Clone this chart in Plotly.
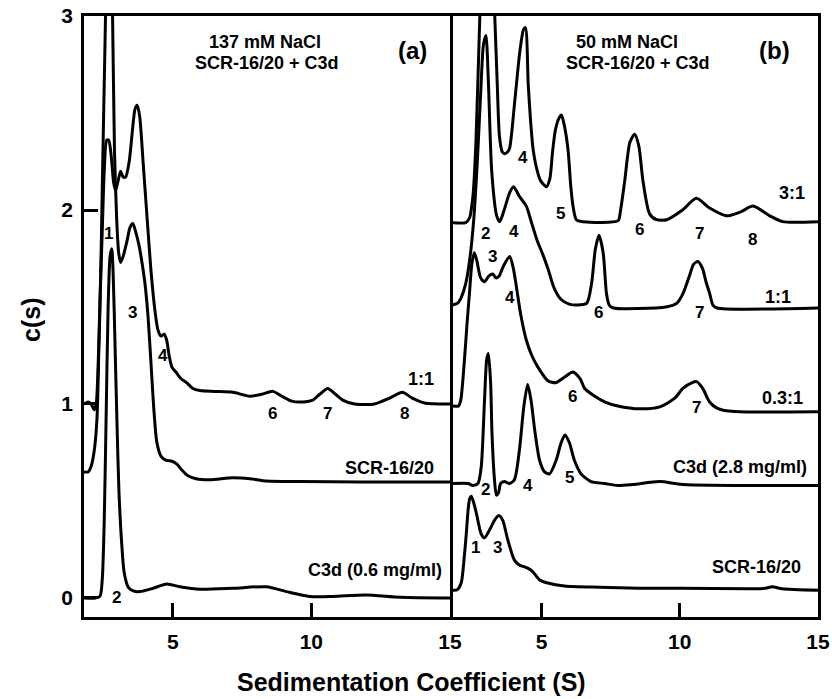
import plotly.graph_objects as go

FONT = "Liberation Sans, Arial, Helvetica, sans-serif"

# ---------------- Panel (a): 137 mM NaCl ----------------
a_c3d_x = [1.8, 2.21, 2.38, 2.46, 2.53, 2.60, 2.67, 2.74, 2.80, 2.85, 2.92, 2.99, 3.06, 3.16, 3.25, 3.40,
           3.60, 3.82, 4.29, 4.78, 5.26, 5.98, 7.17, 8.38, 9.10, 9.94, 10.77, 11.97, 13.21, 15.0]
a_c3d_y = [0.0, 0.0, 0.01, 0.1, 0.4, 0.95, 1.5, 1.76, 1.80, 1.68, 1.3, 0.9, 0.55, 0.28, 0.13, 0.055,
           0.035, 0.033, 0.05, 0.072, 0.058, 0.045, 0.05, 0.058, 0.033, 0.008, 0.008, 0.015, 0.004, 0.0]

a_scr_x = [1.8, 1.95, 2.06, 2.17, 2.27, 2.33, 2.40, 2.47, 2.55, 2.62, 2.69, 2.76, 2.83, 2.90, 2.98, 3.05,
           3.12, 3.21, 3.35, 3.46, 3.56, 3.66, 3.78, 3.88, 4.0, 4.11, 4.22, 4.33, 4.43, 4.58, 4.76, 4.97,
           5.15, 5.33, 5.55, 5.84, 6.34, 7.17, 7.78, 8.39, 9.58, 11.74, 15.0]
a_scr_y = [0.65, 0.65, 0.68, 0.76, 0.93, 1.25, 1.65, 2.2, 2.8, 3.3, 3.55, 3.45, 3.0, 2.3, 1.95, 1.78,
           1.73, 1.76, 1.84, 1.91, 1.93, 1.89, 1.82, 1.74, 1.62, 1.45, 1.2, 0.95, 0.8, 0.73, 0.71, 0.705,
           0.69, 0.66, 0.63, 0.615, 0.61, 0.62, 0.615, 0.603, 0.60, 0.598, 0.598]

a_11_x = [1.8, 1.95, 2.06, 2.17, 2.24, 2.31, 2.38, 2.46, 2.53, 2.62, 2.69, 2.78, 2.87, 2.94, 3.03, 3.12,
          3.21, 3.30, 3.43, 3.54, 3.64, 3.72, 3.81, 3.93, 4.08, 4.22, 4.36, 4.47, 4.58, 4.69, 4.78, 4.87,
          4.97, 5.14, 5.30, 5.50, 5.73, 5.98, 6.52, 7.17, 7.78, 8.21, 8.61, 8.93, 9.29, 9.58, 10.05, 10.30,
          10.59, 10.87, 11.13, 11.56, 12.28, 12.82, 13.28, 13.64, 14.08, 15.0]
a_11_y = [1.0, 1.01, 1.0, 0.97, 1.0, 1.2, 1.55, 1.9, 2.2, 2.36, 2.36, 2.28, 2.14, 2.10, 2.15, 2.2,
          2.17, 2.17, 2.25, 2.4, 2.52, 2.54, 2.48, 2.25, 1.95, 1.68, 1.48, 1.38, 1.35, 1.36, 1.33, 1.25,
          1.19, 1.16, 1.13, 1.11, 1.08, 1.07, 1.065, 1.06, 1.04, 1.05, 1.065, 1.04, 1.015, 1.01, 1.02, 1.05,
          1.08, 1.05, 1.02, 1.0, 1.0, 1.03, 1.06, 1.03, 1.005, 1.0]

# ---------------- Panel (b): 50 mM NaCl ----------------
b_scr_x = [1.78, 1.95, 2.10, 2.20, 2.28, 2.35, 2.40, 2.46, 2.53, 2.64, 2.82, 2.94, 3.12, 3.30, 3.46, 3.60,
           3.78, 4.02, 4.20, 4.39, 4.55, 4.69, 4.93, 5.23, 5.83, 7.1, 8.5, 10.0, 12.5, 13.1, 13.35, 13.7, 15.0]
b_scr_y = [0.04, 0.042, 0.08, 0.2, 0.33, 0.46, 0.51, 0.525, 0.5, 0.44, 0.33, 0.31, 0.35, 0.40, 0.425, 0.40,
           0.30, 0.195, 0.17, 0.16, 0.15, 0.135, 0.093, 0.077, 0.062, 0.055, 0.05, 0.05, 0.048, 0.05, 0.058,
           0.048, 0.04]

b_c3d_x = [1.78, 2.34, 2.52, 2.70, 2.82, 2.94, 3.02, 3.08, 3.16, 3.21, 3.30, 3.37, 3.45, 3.52, 3.66, 3.84,
           4.02, 4.20, 4.36, 4.50, 4.62, 4.77, 4.93, 5.11, 5.29, 5.53, 5.71, 5.85, 6.01, 6.19, 6.43, 6.79,
           7.28, 7.76, 8.30, 9.28, 10.11, 15.0]
b_c3d_y = [0.59, 0.59, 0.58, 0.59, 0.675, 1.02, 1.23, 1.26, 1.11, 0.85, 0.61, 0.53, 0.545, 0.59, 0.60, 0.59,
           0.61, 0.76, 0.985, 1.10, 1.02, 0.85, 0.71, 0.65, 0.64, 0.71, 0.80, 0.84, 0.80, 0.71, 0.64, 0.60,
           0.59, 0.58, 0.585, 0.60, 0.585, 0.58]

b_03_x = [1.78, 2.0, 2.08, 2.2, 2.30, 2.40, 2.48, 2.57, 2.66, 2.80, 2.94, 3.10, 3.24, 3.35, 3.47, 3.62,
          3.85, 3.98, 4.25, 4.45, 4.65, 4.87, 5.23, 5.52, 5.85, 6.13, 6.40, 6.56, 6.93, 7.30, 7.76, 8.55,
          9.28, 9.82, 10.11, 10.45, 10.61, 10.83, 11.08, 11.33, 11.69, 12.16, 15.0]
b_03_y = [0.99, 0.99, 1.02, 1.2, 1.40, 1.58, 1.72, 1.78, 1.74, 1.65, 1.63, 1.66, 1.67, 1.65, 1.66, 1.71,
          1.76, 1.70, 1.46, 1.33, 1.25, 1.19, 1.12, 1.11, 1.14, 1.165, 1.13, 1.08, 1.04, 1.01, 0.99, 0.975,
          0.985, 1.03, 1.08, 1.11, 1.115, 1.08, 1.01, 0.98, 0.965, 0.96, 0.96]

b_11_x = [1.78, 1.97, 2.10, 2.26, 2.41, 2.55, 2.68, 2.80, 2.90, 2.99, 3.08, 3.20, 3.38, 3.49, 3.65,
          3.85, 3.99, 4.2, 4.45, 4.65, 4.85, 5.05, 5.25, 5.45, 5.7, 6.0, 6.3, 6.64, 6.81, 6.95, 7.08, 7.23,
          7.35, 7.45, 7.6, 9.5, 9.9, 10.12, 10.35, 10.5, 10.66, 10.82, 10.95, 11.08, 11.2, 11.35, 15.0]
b_11_y = [1.51, 1.52, 1.55, 1.62, 1.75, 1.95, 2.25, 2.6, 2.85, 2.90, 2.66, 2.2, 1.97, 1.94, 2.0,
          2.09, 2.12, 2.07, 2.02, 1.93, 1.84, 1.77, 1.69, 1.6, 1.54, 1.515, 1.51, 1.52, 1.62, 1.80, 1.87, 1.78,
          1.57, 1.51, 1.495, 1.50, 1.52, 1.57, 1.66, 1.72, 1.735, 1.70, 1.63, 1.57, 1.51, 1.495, 1.495]

b_31_x = [1.78, 2.26, 2.40, 2.52, 2.63, 2.77, 2.9, 3.05, 3.2, 3.31, 3.40, 3.48, 3.58, 3.67, 3.78, 3.85,
          4.04, 4.22, 4.35, 4.42, 4.52, 4.61, 4.70, 4.85, 4.97, 5.18, 5.30, 5.40, 5.50, 5.62, 5.72, 5.82,
          5.96, 6.06, 6.14, 6.26, 6.5, 7.77, 7.85, 8.01, 8.2, 8.37, 8.52, 8.67, 8.91, 9.16, 9.53, 10.1,
          10.6, 11.08, 11.69, 12.2, 12.65, 13.25, 13.72, 15.0]
b_31_y = [1.935, 1.935, 1.96, 2.07, 2.35, 3.0, 3.5, 3.7, 3.4, 3.0, 2.65, 2.38, 2.30, 2.29, 2.30, 2.32,
          2.57, 2.82, 2.93, 2.94, 2.65, 2.45, 2.31, 2.2, 2.15, 2.12, 2.16, 2.30, 2.41, 2.47, 2.49, 2.44,
          2.31, 2.12, 2.02, 1.95, 1.94, 1.945, 1.99, 2.15, 2.35, 2.39, 2.33, 2.15, 1.98, 1.95, 1.95, 2.0,
          2.06, 2.01, 1.97, 1.99, 2.02, 1.97, 1.94, 1.94]

# ---------------- Labels ----------------
a_peak_text = ["1", "3", "4", "2", "6", "7", "8"]
a_peak_x = [2.68, 3.54, 4.65, 2.96, 8.61, 10.59, 13.36]
a_peak_y = [1.88, 1.47, 1.25, 0.0, 0.95, 0.95, 0.95]

a_curve_text = ["1:1", "SCR-16/20", "C3d (0.6 mg/ml)"]
a_curve_x = [14.51, 14.51, 14.79]
a_curve_y = [1.13, 0.67, 0.145]

b_peak_text = ["4", "5", "6", "7", "8", "2", "4", "6", "7", "3", "4", "6", "7", "2", "4", "5", "1", "3"]
b_peak_x = [4.32, 5.70, 8.55, 10.72, 12.64, 2.99, 4.02, 7.07, 10.72, 3.24, 3.85, 6.13, 10.61, 2.99, 4.50, 6.01, 2.63, 3.42]
b_peak_y = [2.27, 1.98, 1.90, 1.88, 1.85, 1.88, 1.89, 1.47, 1.47, 1.76, 1.55, 1.04, 0.98, 0.56, 0.58, 0.62, 0.26, 0.26]

b_curve_text = ["3:1", "1:1", "0.3:1", "C3d (2.8 mg/ml)", "SCR-16/20"]
b_curve_x = [14.59, 14.08, 14.52, 14.66, 14.44]
b_curve_y = [2.09, 1.55, 1.03, 0.675, 0.16]

a_title = ["137 mM NaCl", "SCR-16/20 + C3d"]
b_title = ["50 mM NaCl", "SCR-16/20 + C3d"]
title_y = [2.866, 2.76]
a_title_x = [8.32, 8.39]
b_title_x = [8.08, 8.48]

x_ticks = [5, 10, 15]
y_ticks = [0, 1, 2, 3]
x_range = [1.8, 15]
y_range = [-0.098, 3]

fig = go.Figure()
line = dict(color="black", width=3, shape="spline", smoothing=0.7)

for xs, ys in [(a_c3d_x, a_c3d_y), (a_scr_x, a_scr_y), (a_11_x, a_11_y)]:
    fig.add_trace(go.Scatter(x=xs, y=ys, mode="lines", line=line, xaxis="x", yaxis="y",
                             showlegend=False, hoverinfo="skip"))
for xs, ys in [(b_scr_x, b_scr_y), (b_c3d_x, b_c3d_y), (b_03_x, b_03_y), (b_11_x, b_11_y), (b_31_x, b_31_y)]:
    fig.add_trace(go.Scatter(x=xs, y=ys, mode="lines", line=line, xaxis="x2", yaxis="y2",
                             showlegend=False, hoverinfo="skip"))

ann = []
def add(text, x, y, xr, yr, size, xanchor="center"):
    ann.append(dict(text="<b>" + text + "</b>", x=x, y=y, xref=xr, yref=yr, showarrow=False,
                    xanchor=xanchor, yanchor="middle",
                    font=dict(family=FONT, size=size, color="black")))

for t, x, y in zip(a_peak_text, a_peak_x, a_peak_y):
    add(t, x, y, "x", "y", 17)
for t, x, y in zip(a_curve_text, a_curve_x, a_curve_y):
    add(t, x, y, "x", "y", 18, "right")
for t, x, y in zip(b_peak_text, b_peak_x, b_peak_y):
    add(t, x, y, "x2", "y2", 17)
for t, x, y in zip(b_curve_text, b_curve_x, b_curve_y):
    add(t, x, y, "x2", "y2", 18, "right")
for t, x, y in zip(a_title, a_title_x, title_y):
    add(t, x, y, "x", "y", 18)
for t, x, y in zip(b_title, b_title_x, title_y):
    add(t, x, y, "x2", "y2", 18)
add("(a)", 13.64, 2.82, "x", "y", 24)
add("(b)", 13.43, 2.82, "x2", "y2", 24)

W, H = 832, 699
ML, MR, MT, MB = 84, 14, 16, 82
PW, PH = W - ML - MR, H - MT - MB

# axis titles (positions given in page pixels, converted to paper fractions)
ann.append(dict(text="<b>Sedimentation Coefficient (S)</b>", x=(411 - ML) / PW, y=(H - 682 - MB) / PH,
                xref="paper", yref="paper", xanchor="center", yanchor="middle",
                showarrow=False, font=dict(family=FONT, size=25, color="black")))
ann.append(dict(text="<b>c(s)</b>", x=(31 - ML) / PW, y=(H - 320 - MB) / PH, xref="paper", yref="paper",
                textangle=-90, xanchor="center", yanchor="middle",
                showarrow=False, font=dict(family=FONT, size=25, color="black")))

xcommon = dict(range=x_range, tickvals=x_ticks, ticktext=[str(v) for v in x_ticks], ticks="inside",
               ticklen=14, tickwidth=2.5, tickcolor="black", showline=True, linecolor="black",
               linewidth=2.5, mirror=True, showgrid=False, zeroline=False, automargin=False,
               tickfont=dict(family=FONT, size=21, color="black", weight="bold"),
               ticklabelstandoff=4)
ycommon = dict(range=y_range, showline=True, linecolor="black", linewidth=2.5, mirror=True,
               showgrid=False, zeroline=False, automargin=False)

fig.update_layout(
    width=W, height=H, margin=dict(l=ML, r=MR, t=MT, b=MB, autoexpand=False),
    paper_bgcolor="white", plot_bgcolor="white",
    xaxis=dict(domain=[0, 366 / PW], anchor="y", **xcommon),
    xaxis2=dict(domain=[369 / PW, 1], anchor="y2", **xcommon),
    yaxis=dict(domain=[0, 1], anchor="x", tickvals=y_ticks, ticktext=[str(v) for v in y_ticks],
               ticks="inside", ticklen=14, tickwidth=2.5, tickcolor="black",
               tickfont=dict(family=FONT, size=21, color="black", weight="bold"),
               ticklabelstandoff=4, **ycommon),
    yaxis2=dict(domain=[0, 1], anchor="x2", showticklabels=False, ticks="", **ycommon),
    annotations=ann,
)

fig.write_html("out.html")
